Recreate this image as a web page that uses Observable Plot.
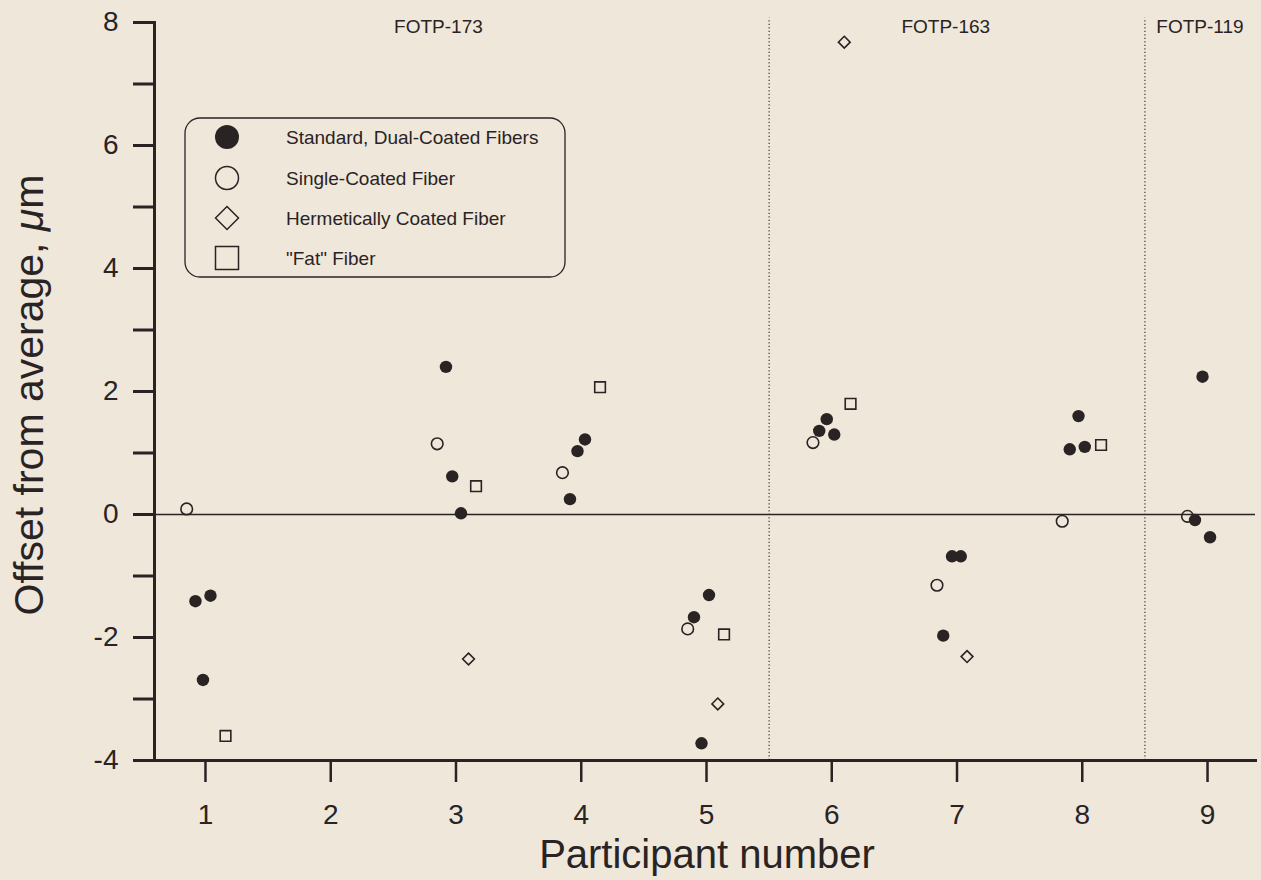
<!DOCTYPE html>
<html>
<head>
<meta charset="utf-8">
<script src="https://cdn.jsdelivr.net/npm/d3@7"></script>
<script src="https://cdn.jsdelivr.net/npm/@observablehq/plot@0.6"></script>
<style>
  html, body { margin: 0; padding: 0; background: #eee7da; }
  #chart { width: 1261px; height: 880px; }
</style>
</head>
<body>
<div id="chart"></div>
<script>
// ---- data ----
const dualX   = [0.92, 1.04, 0.98, 2.92, 2.97, 3.04, 3.91, 3.97, 4.03, 4.90, 5.02, 4.96, 5.90, 5.96, 6.02, 6.96, 7.03, 6.89, 7.90, 7.97, 8.02, 8.96, 8.90, 9.02];
const dualY   = [-1.41, -1.32, -2.69, 2.40, 0.62, 0.02, 0.25, 1.03, 1.22, -1.67, -1.31, -3.72, 1.36, 1.55, 1.30, -0.68, -0.68, -1.97, 1.06, 1.60, 1.10, 2.24, -0.09, -0.37];
const singleX = [0.85, 2.85, 3.85, 4.85, 5.85, 6.84, 7.84, 8.84];
const singleY = [0.09, 1.15, 0.68, -1.86, 1.17, -1.15, -0.11, -0.03];
const hermX   = [3.10, 5.09, 6.10, 7.08];
const hermY   = [-2.35, -3.08, 7.68, -2.31];
const fatX    = [1.16, 3.16, 4.15, 5.14, 6.15, 8.15];
const fatY    = [-3.60, 0.46, 2.07, -1.95, 1.80, 1.13];

const participants = [1, 2, 3, 4, 5, 6, 7, 8, 9];
const yTicks = [-4, -3, -2, -1, 0, 1, 2, 3, 4, 5, 6, 7, 8];
const dividers = [5.5, 8.5];
const groupNames = ["FOTP-173", "FOTP-163", "FOTP-119"];
const groupX = [2.86, 6.91, 8.94];
const groupY = [7.93, 7.93, 7.93];
const legendLabels = ["Standard, Dual-Coated Fibers", "Single-Coated Fiber", "Hermetically Coated Fiber", "\"Fat\" Fiber"];

const ink = "#2a2324";
const zip = (xs, ys) => xs.map((x, i) => ({x, y: ys[i]}));

const plot = Plot.plot({
  width: 1261,
  height: 880,
  marginLeft: 154,
  marginRight: 6,
  marginTop: 22,
  marginBottom: 120,
  x: {domain: [0.593, 9.383]},
  y: {domain: [-4, 8]},
  style: {background: "#eee7da", color: ink, fontFamily: "'Liberation Sans', Arial, Helvetica, sans-serif", fontSize: "28px"},
  marks: [
    Plot.ruleX(dividers, {y1: -4, y2: 8.07, stroke: "#4a4444", strokeWidth: 1.3, strokeDasharray: "1.3,2.2"}),
    Plot.ruleY([0], {stroke: ink, strokeWidth: 1.6}),
    Plot.frame({anchor: "left", stroke: ink, strokeWidth: 3}),
    Plot.frame({anchor: "bottom", stroke: ink, strokeWidth: 3}),
    Plot.axisY({ticks: yTicks, tickSize: 21, tickPadding: 15, strokeWidth: 3, label: null,
      tickFormat: d => (d % 2 === 0 ? String(d) : ""), fontSize: 28}),
    Plot.axisX({ticks: participants, tickSize: 22, tickPadding: 22, strokeWidth: 2.5, label: null,
      tickFormat: d => String(d), fontSize: 28}),
    Plot.text(groupNames.map((t, i) => ({t, x: groupX[i], y: groupY[i]})), {x: "x", y: "y", text: "t", fontSize: 19, fill: ink}),
    Plot.dot(zip(singleX, singleY), {x: "x", y: "y", r: 5.8, stroke: ink, strokeWidth: 1.6, fill: "none"}),
    Plot.dot(zip(hermX, hermY), {x: "x", y: "y", symbol: "diamond2", r: 5.3, stroke: ink, strokeWidth: 1.6, fill: "none"}),
    Plot.dot(zip(fatX, fatY), {x: "x", y: "y", symbol: "square", r: 6.0, stroke: ink, strokeWidth: 1.6, fill: "none"}),
    Plot.dot(zip(dualX, dualY), {x: "x", y: "y", r: 6.2, fill: ink, stroke: "none"})
  ]
});

document.getElementById("chart").appendChild(plot);

const svg = d3.select(plot);

// axis titles
svg.append("text")
  .attr("x", 707).attr("y", 868)
  .attr("text-anchor", "middle")
  .attr("font-size", 40)
  .attr("fill", ink)
  .text("Participant number");

const yl = svg.append("text")
  .attr("transform", "translate(43,395) rotate(-90)")
  .attr("text-anchor", "middle")
  .attr("font-size", 41)
  .attr("fill", ink);
yl.append("tspan").text("Offset from average, ");
yl.append("tspan").attr("font-style", "italic").text("\u03bc");
yl.append("tspan").text("m");

// legend
const lg = svg.append("g").attr("text-anchor", "start");
lg.append("rect").attr("x", 185).attr("y", 118).attr("width", 380).attr("height", 159)
  .attr("rx", 15).attr("fill", "none").attr("stroke", ink).attr("stroke-width", 1.3);
const rowsY = [137, 178, 218, 258];
const mx = 227;
lg.append("circle").attr("cx", mx).attr("cy", rowsY[0]).attr("r", 12).attr("fill", ink);
lg.append("circle").attr("cx", mx).attr("cy", rowsY[1]).attr("r", 11.5).attr("fill", "none").attr("stroke", ink).attr("stroke-width", 1.5);
lg.append("path").attr("d", `M${mx},${rowsY[2]-11.5}L${mx+11.5},${rowsY[2]}L${mx},${rowsY[2]+11.5}L${mx-11.5},${rowsY[2]}Z`)
  .attr("fill", "none").attr("stroke", ink).attr("stroke-width", 1.5);
lg.append("rect").attr("x", mx - 11.5).attr("y", rowsY[3] - 11.5).attr("width", 23).attr("height", 23)
  .attr("fill", "none").attr("stroke", ink).attr("stroke-width", 1.5);
legendLabels.forEach((t, i) => {
  lg.append("text").attr("x", 286).attr("y", rowsY[i]).attr("dy", "0.36em")
    .attr("text-anchor", "start")
    .attr("font-size", 19).attr("fill", ink).text(t);
});
</script>
</body>
</html>
